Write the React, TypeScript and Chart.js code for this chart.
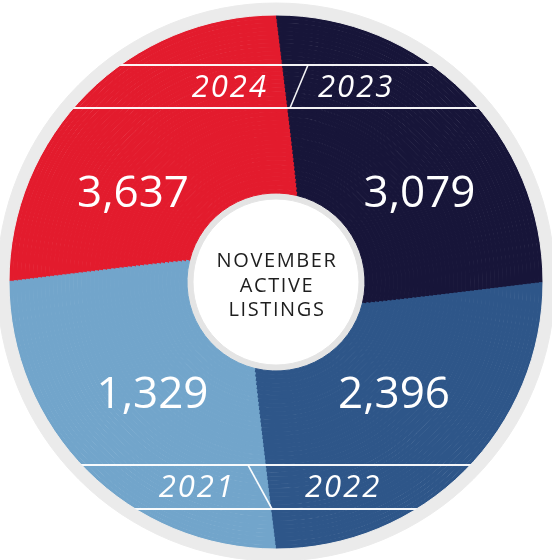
import React, { useEffect, useRef } from 'react';
import { Chart, registerables } from 'chart.js';

Chart.register(...registerables);

// ---- data ----
const years = ['2024', '2023', '2022', '2021'];
const activeListings = [3637, 3079, 2396, 1329];
// each year is drawn as an equal quarter of the wheel
const sliceShares = [25, 25, 25, 25];
const centerTitle = ['NOVEMBER', 'ACTIVE', 'LISTINGS'];

// ---- styles / layout ----
const SLICE_COLORS = ['#e31b2d', '#171539', '#2e5689', '#72a5cb'];
const OUTER_RING = '#ebebeb';
const INNER_RING = '#e4e4e4';
const PAGE_W = 552;
const PAGE_H = 560;
const CX = 276;
const CY = 282;
const CANVAS = 600;
const R_OUT = 279;
const R_PIE = 267;
const R_HOLE_RING = 89;
const R_HOLE = 83;
const RINGS = 44;

// pinwheel twist: boundaries are straight lines offset from the centre
function twistDeg(r: number): number {
  const d = 33.3 - 0.123 * r;
  return (Math.atan2(d, r) * 180) / Math.PI;
}

const numberPos = [
  { dx: -143, dy: -75 },
  { dx: 143.5, dy: -75 },
  { dx: 118, dy: 126 },
  { dx: -123.5, dy: 126 },
];
const yearPos: { dx: number; dy: number; align: CanvasTextAlign }[] = [
  { dx: -8, dy: -185, align: 'right' },
  { dx: 42, dy: -185, align: 'left' },
  { dx: 29, dy: 215, align: 'left' },
  { dx: -41, dy: 215, align: 'right' },
];

const overlayPlugin = {
  id: 'overlay',
  afterDatasetsDraw(chart: any) {
    const ctx: CanvasRenderingContext2D = chart.ctx;
    const arc = chart.getDatasetMeta(0).data[0];
    const cx = arc.x;
    const cy = arc.y;

    // year bands
    ctx.save();
    ctx.beginPath();
    ctx.arc(cx, cy, R_PIE, 0, Math.PI * 2);
    ctx.clip();
    ctx.strokeStyle = 'rgba(255,255,255,0.95)';
    ctx.lineWidth = 2;
    for (const dy of [-217, -174, 183, 227]) {
      ctx.beginPath();
      ctx.moveTo(cx - R_PIE, cy + dy);
      ctx.lineTo(cx + R_PIE, cy + dy);
      ctx.stroke();
    }
    ctx.lineWidth = 1.6;
    ctx.beginPath();
    ctx.moveTo(cx + 32, cy - 217);
    ctx.lineTo(cx + 14, cy - 174);
    ctx.stroke();
    ctx.beginPath();
    ctx.moveTo(cx - 28, cy + 183);
    ctx.lineTo(cx - 4, cy + 227);
    ctx.stroke();
    ctx.restore();

    ctx.save();
    ctx.fillStyle = '#ffffff';
    ctx.textBaseline = 'alphabetic';
    // year labels
    ctx.font = 'italic 500 31px "Open Sans"';
    (ctx as any).letterSpacing = '2px';
    years.forEach((y, i) => {
      const p = yearPos[i];
      ctx.textAlign = p.align;
      ctx.fillText(y, cx + p.dx, cy + p.dy);
    });
    // values
    (ctx as any).letterSpacing = '0px';
    ctx.font = '400 44px "Open Sans"';
    ctx.textAlign = 'center';
    activeListings.forEach((v, i) => {
      const p = numberPos[i];
      ctx.fillText(v.toLocaleString('en-US'), cx + p.dx, cy + p.dy);
    });
    // centre title
    ctx.fillStyle = '#1e1e1e';
    ctx.font = '400 20px "Open Sans"';
    (ctx as any).letterSpacing = '1.6px';
    const baselines = [-15, 10, 34];
    centerTitle.forEach((t, i) => {
      ctx.fillText(t, cx + 1, cy + baselines[i]);
    });
    ctx.restore();
  },
};

export default function App() {
  const ref = useRef<HTMLCanvasElement | null>(null);

  useEffect(() => {
    if (!ref.current) return;
    const ringW = (R_PIE - R_HOLE_RING) / RINGS;
    const datasets: any[] = [];
    datasets.push({
      label: 'rim',
      data: [1],
      backgroundColor: [OUTER_RING],
      borderColor: [OUTER_RING],
      borderWidth: 1,
      weight: R_OUT - R_PIE,
    });
    for (let i = 0; i < RINGS; i++) {
      const rMid = R_PIE - (i + 0.5) * ringW;
      datasets.push({
        label: 'Active listings',
        data: sliceShares,
        backgroundColor: SLICE_COLORS,
        borderColor: SLICE_COLORS,
        borderWidth: 1,
        weight: ringW,
        rotation: 270 + twistDeg(rMid),
      });
    }
    datasets.push({
      label: 'hole rim',
      data: [1],
      backgroundColor: [INNER_RING],
      borderColor: [INNER_RING],
      borderWidth: 1,
      weight: R_HOLE_RING - R_HOLE,
    });

    const chart = new Chart(ref.current, {
      type: 'doughnut',
      data: { labels: years, datasets },
      options: {
        responsive: false,
        animation: false,
        events: [],
        radius: R_OUT,
        cutout: `${(R_HOLE / R_OUT) * 100}%`,
        layout: { padding: 0 },
        plugins: {
          legend: { display: false },
          tooltip: { enabled: false },
        },
      } as any,
      plugins: [overlayPlugin],
    });
    return () => chart.destroy();
  }, []);

  return (
    <div
      style={{
        position: 'fixed',
        left: 0,
        top: 0,
        width: PAGE_W,
        height: PAGE_H,
        overflow: 'hidden',
        background: '#ffffff',
      }}
    >
      <canvas
        ref={ref}
        width={CANVAS}
        height={CANVAS}
        style={{ position: 'absolute', left: CX - CANVAS / 2, top: CY - CANVAS / 2, width: CANVAS, height: CANVAS }}
      />
    </div>
  );
}
